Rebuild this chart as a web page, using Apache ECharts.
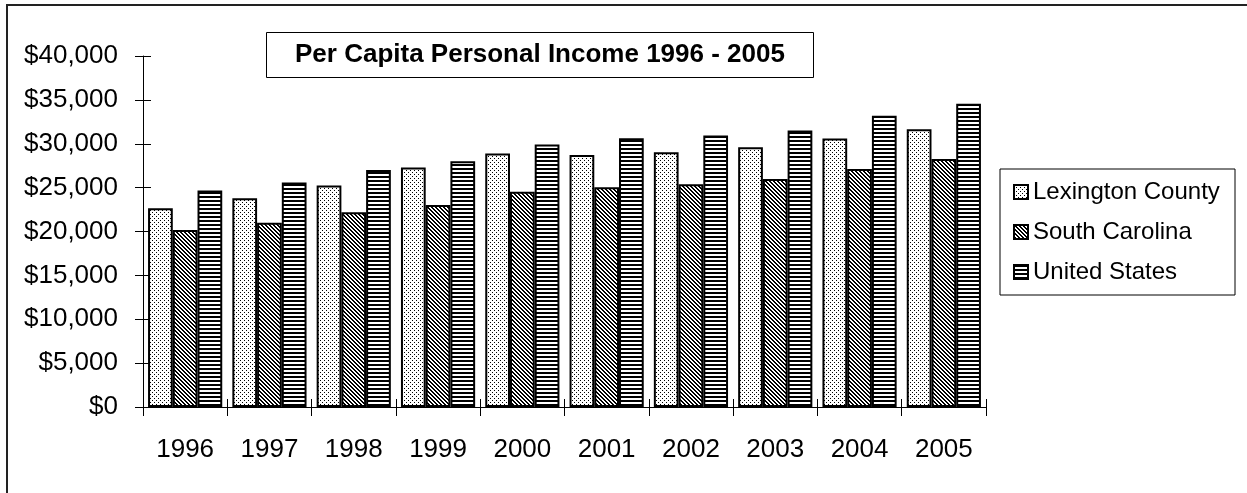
<!DOCTYPE html>
<html>
<head>
<meta charset="utf-8">
<style>
  html, body { margin: 0; padding: 0; background: #fff; }
  #chart { width: 1247px; height: 493px; }
</style>
<script src="https://cdn.jsdelivr.net/npm/echarts@6/dist/echarts.min.js"></script>
</head>
<body>
<div id="chart"></div>
<script>
// Per capita personal income, 1996-2005 (dollars)
const years = ['1996', '1997', '1998', '1999', '2000', '2001', '2002', '2003', '2004', '2005'];
const lexingtonCounty = [22650, 23790, 25230, 27280, 28880, 28730, 29040, 29610, 30590, 31660];
const southCarolina   = [20170, 21000, 22190, 23030, 24540, 25040, 25390, 25990, 27130, 28270];
const unitedStates    = [24660, 25570, 27020, 28010, 29910, 30640, 30940, 31510, 33180, 34550];
const seriesNames = ['Lexington County', 'South Carolina', 'United States'];
const titleText = 'Per Capita Personal Income 1996 - 2005';
const yMin = 0, yMax = 40000, yStep = 5000;

const FONT = "'Liberation Sans', Arial, sans-serif";

// Small monochrome fill tiles: dots, diagonal hatching, horizontal stripes
function tile(size, paint) {
  const c = document.createElement('canvas');
  c.width = size; c.height = size;
  const g = c.getContext('2d');
  g.fillStyle = '#fff';
  g.fillRect(0, 0, size, size);
  g.fillStyle = '#000';
  paint(g);
  return { image: c, repeat: 'repeat' };
}
const dotFill = tile(4, g => { g.fillRect(0, 0, 1, 1); g.fillRect(2, 2, 1, 1); });
const hatchFill = tile(4, g => {
  for (let i = 0; i < 4; i++) { g.fillRect(i, i, 1, 1); g.fillRect((i + 1) % 4, i, 1, 1); }
});
const stripeFill = tile(4, g => { g.fillRect(0, 0, 4, 2); });

const fills = [dotFill, hatchFill, stripeFill];
const values = [lexingtonCounty, southCarolina, unitedStates];

const chart = echarts.init(document.getElementById('chart'), null, { renderer: 'canvas' });

const axisLine = { show: true, lineStyle: { color: '#000', width: 1 } };

chart.setOption({
  animation: false,
  backgroundColor: '#fff',
  textStyle: { fontFamily: FONT },
  title: {
    text: titleText,
    left: 266,
    top: 32,
    padding: [10, 29, 10, 29],
    borderColor: '#000',
    borderWidth: 1,
    backgroundColor: '#fff',
    textStyle: { fontFamily: FONT, fontSize: 26, fontWeight: 'bold', color: '#000', lineHeight: 26 }
  },
  legend: {
    orient: 'vertical',
    left: 1013,
    top: 180,
    itemWidth: 14,
    itemHeight: 14,
    itemGap: 16,
    icon: 'rect',
    padding: 0,
    textStyle: { fontFamily: FONT, fontSize: 24, color: '#000', padding: [0, 0, 0, 0] },
    data: seriesNames
  },
  grid: { left: 143, top: 56, right: 261, bottom: 86, containLabel: false },
  xAxis: [
    {
      type: 'category',
      data: years,
      axisLine: axisLine,
      axisTick: { show: true, inside: false, length: 9, lineStyle: { color: '#000' } },
      axisLabel: { fontFamily: FONT, fontSize: 26, color: '#000', margin: 30 },
      splitLine: { show: false }
    },
    {
      type: 'category',
      data: years,
      position: 'bottom',
      axisLine: { show: false },
      axisTick: { show: true, inside: true, length: 8, lineStyle: { color: '#000' } },
      axisLabel: { show: false },
      splitLine: { show: false }
    }
  ],
  yAxis: [
    {
      type: 'value',
      min: yMin, max: yMax, interval: yStep,
      axisLine: axisLine,
      axisTick: { show: true, inside: false, length: 8, lineStyle: { color: '#000' } },
      axisLabel: {
        fontFamily: FONT, fontSize: 26, color: '#000', margin: 25,
        formatter: v => '$' + v.toLocaleString('en-US')
      },
      splitLine: { show: false }
    },
    {
      type: 'value',
      position: 'left',
      min: yMin, max: yMax, interval: yStep,
      axisLine: { show: false },
      axisTick: { show: true, inside: true, length: 8, lineStyle: { color: '#000' } },
      axisLabel: { show: false },
      splitLine: { show: false }
    }
  ],
  series: seriesNames.map((name, i) => ({
    name: name,
    type: 'bar',
    xAxisIndex: 0,
    yAxisIndex: 0,
    data: values[i],
    barGap: '0%',
    barCategoryGap: '12%',
    itemStyle: { color: fills[i], borderColor: '#000', borderWidth: 2 }
  })),
  graphic: [
    {
      type: 'rect',
      silent: true,
      z: -1,
      shape: { x: 7, y: 5, width: 1400, height: 700 },
      style: { fill: null, stroke: '#222', lineWidth: 2 }
    },
    {
      type: 'rect',
      silent: true,
      z: -1,
      shape: { x: 1000, y: 169, width: 235, height: 126 },
      style: { fill: '#fff', stroke: '#000', lineWidth: 1 }
    }
  ]
});
</script>
</body>
</html>
